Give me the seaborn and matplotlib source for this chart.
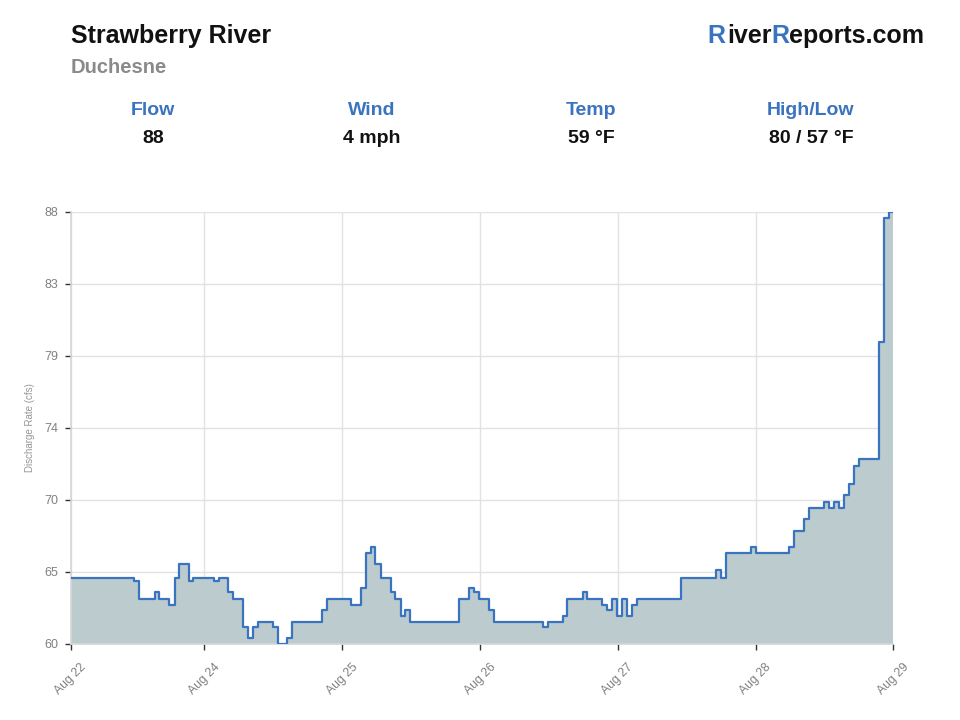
import numpy as np
import pandas as pd
import seaborn as sns
import matplotlib.pyplot as plt

# step changes: hours since the left edge of the axis, flow in cfs
change_hours = [0.0, 11.02, 11.95, 14.63, 15.43, 17.17, 18.11, 18.91, 20.55, 21.35,
                24.96, 25.78, 27.40, 28.22, 30.06, 30.88, 31.80, 32.62, 35.18, 36.11,
                37.72, 38.54, 43.77, 44.59, 48.87, 50.61, 51.43, 52.25, 53.05, 53.99,
                55.73, 56.54, 57.48, 58.28, 59.10, 67.68, 69.42, 70.24, 71.17, 72.91,
                73.73, 82.31, 83.13, 85.69, 86.49, 89.18, 89.97, 92.54, 93.46, 94.28,
                95.09, 96.02, 96.94, 97.76, 98.58, 106.24, 112.34, 113.21, 114.08, 118.44,
                119.31, 125.16, 126.03, 127.77, 128.64, 131.25, 132.07, 132.94, 133.81, 134.63,
                135.50, 136.38, 137.24, 140.73, 141.60, 142.47, 143.27]
flow_cfs = [64.6, 64.4, 63.3, 63.7, 63.3, 62.9, 64.6, 65.5, 64.4, 64.6,
            64.4, 64.6, 63.7, 63.3, 61.5, 60.8, 61.5, 61.8, 61.5, 60.4,
            60.8, 61.8, 62.6, 63.3, 62.9, 64.0, 66.2, 66.6, 65.5, 64.6,
            63.7, 63.3, 62.2, 62.6, 61.8, 63.3, 64.0, 63.7, 63.3, 62.6,
            61.8, 61.5, 61.8, 62.2, 63.3, 63.7, 63.3, 62.9, 62.6, 63.3,
            62.2, 63.3, 62.2, 62.9, 63.3, 64.6, 65.1, 64.6, 66.2, 66.6,
            66.2, 66.6, 67.6, 68.4, 69.1, 69.5, 69.1, 69.5, 69.1, 69.9,
            70.6, 71.8, 72.2, 79.7, 87.6, 88.0, 88.0]

tick_hours = [0.0, 23.27, 47.27, 71.27, 95.27, 119.27, 143.27]
tick_labels = ["Aug 22", "Aug 24", "Aug 25", "Aug 26", "Aug 27", "Aug 28", "Aug 29"]
y_min, y_max = 60.4, 88.0

stat_names = ["Flow", "Wind", "Temp", "High/Low"]
stat_values = ["88", "4 mph", "59 °F", "80 / 57 °F"]

blue = "#3a73c0"
fill = "#bccbce"
grid = "#e2e2e2"

df = pd.DataFrame({"hour": change_hours, "flow": flow_cfs})

sns.set_style("white")
plt.rcParams["font.family"] = ["Liberation Sans", "DejaVu Sans"]

W, H = 960, 720
fig = plt.figure(figsize=(9.6, 7.2), dpi=100)
ax = fig.add_axes([0.0736, 0.1056, 0.857, 0.6])

ax.fill_between(df["hour"], y_min, df["flow"], step="post", color=fill, lw=0, zorder=1)
sns.lineplot(data=df, x="hour", y="flow", drawstyle="steps-post", color=blue,
             linewidth=1.6, ax=ax, zorder=3)

ax.set_xlim(tick_hours[0], tick_hours[-1])
ax.set_ylim(y_min, y_max)
yt = np.linspace(y_min, y_max, 7)
ax.set_yticks(yt)
ax.set_yticklabels([f"{v:.0f}" for v in yt])
ax.set_xticks(tick_hours)
ax.set_xticklabels(tick_labels, rotation=45, ha="center")

ax.grid(True, color=grid, linewidth=1, zorder=0)
ax.set_axisbelow(True)
for s in ["top", "right"]:
    ax.spines[s].set_visible(False)
for s in ["left", "bottom"]:
    ax.spines[s].set_color("#d6d6d6")
    ax.spines[s].set_linewidth(1.2)
ax.tick_params(axis="both", direction="out", length=4.3, width=1, color="#333333",
               labelcolor="#808080")
ax.tick_params(axis="y", left=True, labelsize=9, pad=4.5)
ax.tick_params(axis="x", bottom=True, labelsize=8.7, pad=8)
ax.set_xlabel("")
ax.set_ylabel("Discharge Rate (cfs)", color="#959595", fontsize=7, labelpad=7)

# header
def fy(py):
    return 1 - py / H

fig.text(71 / W, fy(43.3), "Strawberry River", fontsize=18, fontweight="bold",
         color="#111111", va="baseline", ha="left")
fig.text(71 / W, fy(73.3), "Duchesne", fontsize=14.5, fontweight="bold",
         color="#8a8a8a", va="baseline", ha="left")

# RiverReports.com with blue capitals, laid out right to left
fig.canvas.draw()
r = fig.canvas.get_renderer()
pieces = [("eports.com", "#111111", -0.5), ("R", blue, 0.0), ("iver", "#111111", 1.5), ("R", blue, 0)]
right = 924.0
for txt, col, gap in pieces:
    t = fig.text(right / W, fy(43.3), txt, fontsize=18, fontweight="bold", color=col,
                 va="baseline", ha="right")
    right = t.get_window_extent(renderer=r).x0 - gap

centers = [153, 372, 591, 811]
for cx, name, val in zip(centers, stat_names, stat_values):
    fig.text(cx / W, fy(115), name, fontsize=14, fontweight="bold", color=blue,
             ha="center", va="baseline")
    fig.text(cx / W, fy(143.3), val, fontsize=14, fontweight="bold", color="#111111",
             ha="center", va="baseline")

fig.savefig("out.png", dpi=100, facecolor="white")
